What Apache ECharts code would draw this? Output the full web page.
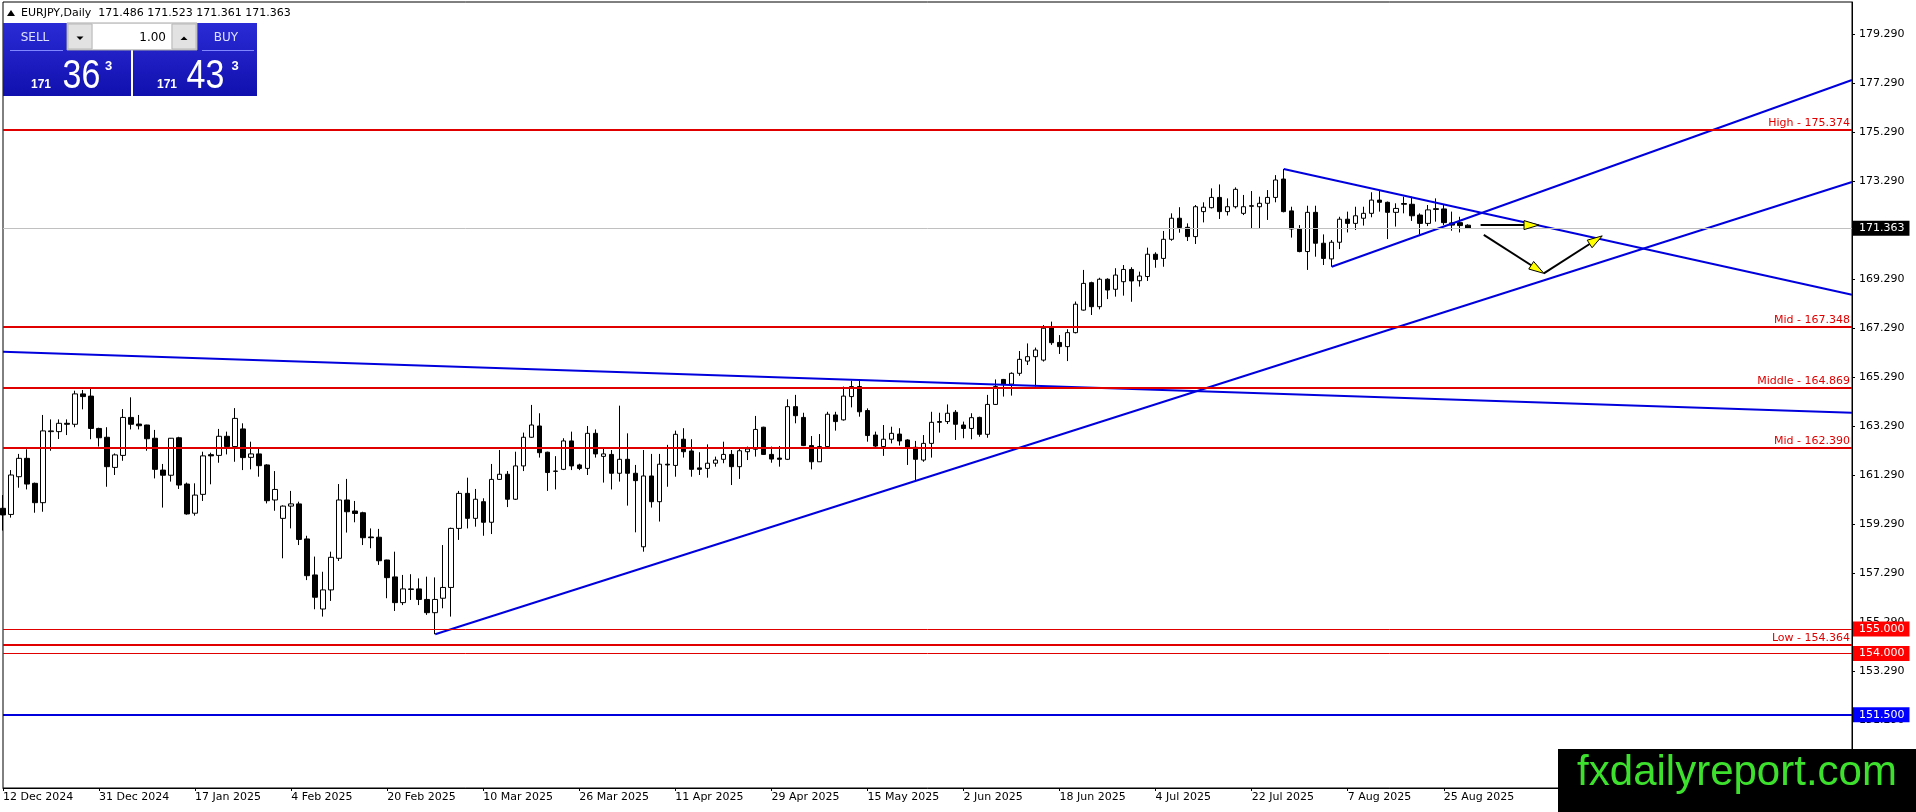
<!DOCTYPE html>
<html>
<head>
<meta charset="utf-8">
<script src="https://cdn.jsdelivr.net/npm/echarts@6/dist/echarts.min.js"></script>
<style>
html,body{margin:0;padding:0;background:#ffffff;}
#c{width:1916px;height:812px;}
</style>
</head>
<body>
<div id="c"></div>
<script>
// ---------- DATA (EURJPY daily) ----------
const open = [
159.93,159.68,161.22,161.97,160.95,160.16,163.06,163.06,163.40,163.36,
164.60,164.51,163.19,162.83,161.60,162.09,163.64,163.37,163.33,162.79,
161.49,161.28,162.81,160.92,159.73,160.50,162.12,162.09,162.87,162.45,
163.17,162.01,162.15,161.70,160.27,159.52,160.02,160.11,158.68,157.21,
155.82,156.60,157.89,160.27,159.82,159.75,158.76,158.75,157.82,157.13,
156.08,156.64,156.64,156.21,155.67,156.26,156.70,159.11,160.54,159.52,
160.20,159.36,161.11,161.32,160.30,161.66,162.83,163.29,162.22,161.45,
161.52,162.68,161.70,161.56,162.99,162.05,162.13,161.36,161.93,161.36,
158.36,161.25,160.20,161.73,161.68,162.75,162.27,161.58,161.56,161.77,
161.93,162.13,161.63,162.24,162.34,163.24,162.13,161.98,161.93,164.08,
163.64,162.49,161.83,162.45,163.74,163.54,164.49,164.90,163.92,162.92,
162.45,162.75,162.96,162.72,162.42,161.90,162.58,163.47,163.47,163.85,
163.33,163.19,163.64,162.95,164.17,165.19,165.00,165.44,165.94,166.12,
165.98,167.30,166.70,166.53,167.10,168.02,169.14,168.16,169.28,168.87,
169.18,169.68,169.22,169.39,170.30,170.13,170.91,171.77,171.40,171.02,
172.04,172.20,172.62,172.04,172.24,171.97,172.28,172.24,172.38,172.62,
173.37,172.07,171.33,170.41,172.01,170.75,170.11,170.79,171.73,171.56,
171.77,171.97,172.51,172.42,172.01,172.37,172.34,171.90,171.56,172.16,
172.15,171.58,171.59,171.486
];
const high = [
160.47,161.49,162.15,162.34,160.98,163.74,163.56,163.56,163.56,164.73,
164.76,164.85,163.22,163.24,162.17,163.98,164.46,163.74,163.34,163.13,
161.74,162.80,162.85,160.98,160.95,162.24,162.20,163.17,163.06,164.02,
163.40,162.65,162.38,161.73,161.45,160.05,160.64,160.20,158.81,157.96,
157.34,158.16,160.92,161.13,160.23,159.79,159.11,159.09,157.83,158.16,
157.21,157.24,157.07,157.14,157.11,158.43,159.14,160.64,161.18,160.72,
160.34,161.74,162.31,161.45,162.24,163.02,164.15,163.81,162.24,162.06,
162.79,163.06,161.75,163.29,163.15,162.38,162.31,164.12,162.99,161.70,
162.31,162.15,162.15,162.52,163.10,163.20,162.75,162.22,162.54,162.04,
162.65,162.31,162.38,162.45,163.70,163.26,162.45,162.47,164.38,164.56,
163.83,162.88,162.96,163.87,163.87,164.90,165.14,165.14,164.01,163.06,
163.33,163.26,163.20,162.75,162.68,162.92,163.87,163.83,164.17,163.94,
163.47,163.81,163.67,164.56,165.19,165.21,165.48,166.35,166.66,166.49,
167.41,167.55,167.00,167.24,168.37,169.66,169.18,169.34,169.32,169.73,
169.86,169.77,169.59,170.57,170.38,171.25,171.97,172.22,171.56,172.31,
172.42,172.99,173.15,172.58,173.03,172.72,172.88,172.65,172.92,173.53,
173.78,172.24,171.49,172.28,172.28,171.11,170.88,171.83,172.04,172.24,
172.24,172.83,172.92,172.45,172.38,172.65,172.65,171.97,172.31,172.58,
172.31,172.04,171.83,171.523
];
const low = [
159.02,159.55,160.77,160.70,159.75,159.79,162.28,162.76,162.92,163.24,
163.97,162.75,162.45,160.81,161.29,161.87,163.15,163.15,162.28,161.15,
159.96,161.02,160.72,159.67,159.63,160.23,160.91,161.79,162.13,161.83,
161.49,161.52,161.22,160.13,159.83,157.89,159.11,158.43,157.00,155.81,
155.51,156.15,157.78,158.94,159.36,158.43,158.30,157.62,156.26,155.74,
155.98,156.19,155.98,155.58,154.79,155.85,155.51,158.64,159.11,159.18,
158.81,158.88,161.09,159.98,160.27,161.45,162.81,162.00,160.64,160.70,
161.49,161.49,161.49,161.29,162.00,160.98,160.70,161.02,160.04,158.95,
158.16,159.96,159.39,160.81,161.22,162.00,161.22,161.29,161.18,161.63,
161.77,160.88,161.13,161.90,162.04,162.11,161.79,161.63,161.90,163.40,
162.47,161.52,161.83,162.42,163.10,163.51,164.05,163.67,162.65,162.42,
162.07,162.58,162.49,161.70,161.06,161.83,162.00,163.02,163.37,162.72,
162.79,162.75,162.85,162.81,164.15,164.49,164.53,165.34,165.78,164.90,
165.92,166.60,166.23,165.94,167.07,168.00,167.82,168.05,168.47,168.57,
168.61,168.36,168.98,169.21,169.75,169.79,170.85,171.18,170.84,170.72,
171.60,172.17,171.74,171.88,172.17,171.90,171.33,171.33,171.70,172.42,
172.01,170.98,170.38,169.66,170.20,169.86,169.79,170.51,171.19,171.29,
171.47,171.81,172.04,170.92,171.43,171.97,171.66,171.11,171.45,171.63,
171.49,171.26,171.19,171.361
];
const close = [
159.66,161.29,161.97,160.92,160.16,163.09,163.09,163.40,163.36,164.60,
164.49,163.19,162.81,161.63,162.11,163.64,163.36,163.30,162.77,161.52,
161.28,162.79,160.88,159.70,160.47,162.07,162.07,162.87,162.45,163.60,
162.00,162.15,161.67,160.24,160.70,160.02,160.11,158.66,157.18,156.30,
156.60,157.93,160.27,159.79,159.72,158.73,158.73,157.79,157.10,156.08,
156.64,156.62,156.21,155.67,156.21,156.70,159.11,160.54,159.52,160.30,
159.36,161.11,161.32,160.30,161.66,162.83,163.33,162.20,161.39,161.44,
162.68,161.66,161.56,162.99,162.15,162.15,161.36,161.93,161.36,161.06,
161.25,160.20,161.73,161.70,162.95,162.24,161.52,161.52,161.77,161.90,
162.13,161.63,162.28,162.35,163.15,162.13,161.94,161.93,164.08,163.71,
162.49,161.83,162.45,163.77,163.47,164.51,164.90,163.87,162.90,162.47,
162.75,162.99,162.68,162.42,161.93,162.58,163.44,163.44,163.81,163.36,
163.19,163.63,162.95,164.17,164.90,165.00,165.44,166.01,166.12,166.39,
167.28,166.69,166.53,167.10,168.26,169.11,168.16,169.28,168.84,169.45,
169.68,169.21,169.41,170.30,170.09,170.91,171.77,171.39,171.02,172.24,
172.22,172.62,172.04,172.24,172.95,172.24,172.26,172.38,172.62,173.33,
172.04,171.33,170.41,172.01,170.75,170.13,170.79,171.73,171.56,171.87,
171.97,172.51,172.42,172.01,172.17,172.34,171.87,171.56,172.11,172.13,
171.59,171.49,171.47,171.363
];

// bar slots on the time axis (traded bars + empty space to the right)
const slotCount = 232;
const slots = Array.from({length: slotCount}, (_, i) => String(i));

// date labels, one every 12 bars starting at bar 0
const tickLabels = ['12 Dec 2024','31 Dec 2024','17 Jan 2025','4 Feb 2025','20 Feb 2025','10 Mar 2025',
  '26 Mar 2025','11 Apr 2025','29 Apr 2025','15 May 2025','2 Jun 2025','18 Jun 2025','4 Jul 2025',
  '22 Jul 2025','7 Aug 2025','25 Aug 2025'];
const tickEvery = 12;

// price axis tick labels
const priceTicks = [151.29,153.29,155.29,157.29,159.29,161.29,163.29,165.29,167.29,169.29,171.29,173.29,175.29,177.29,179.29];

// horizontal red levels with text
const levelValues = [175.374, 167.348, 164.869, 162.390, 154.364];
const levelNames  = ['High - 175.374', 'Mid - 167.348', 'Middle - 164.869', 'Mid - 162.390', 'Low - 154.364'];

// horizontal lines with a price box on the axis
const boxValues = [155.000, 154.000, 151.500, 171.363];
const boxKinds  = ['red', 'red', 'blue', 'bid'];

// trend lines: [barIndex, price] pairs
const trendDescLong   = [[0, 166.32], [231, 163.83]];
const trendChannelLow = [[54, 154.79], [231, 173.25]];
const trendChannelHi  = [[166, 169.79], [231, 177.41]];
const trendTriangleHi = [[160, 173.78], [231, 168.65]];

// arrows: [fromBar, fromPrice, toBar, toPrice]
const arrows = [
  [184.6, 171.49, 191.9, 171.49],
  [185.0, 171.09, 192.5, 169.52],
  [192.5, 169.52, 199.8, 171.05]
];

// ---------- CHART ----------
const FONT = 'DejaVu Sans';
const RED = '#e00000';
const BLUE = '#0000dd';

const candleData = open.map((o, i) => [o, close[i], low[i], high[i]]);

const boxStyle = {
  red:  {line: RED, width: 1, bg: '#ff0000'},
  blue: {line: BLUE, width: 2, bg: '#0000ff'},
  bid:  {line: '#c0c0c0', width: 1, bg: '#000000'}
};

const markData = [];
levelValues.forEach((v, i) => {
  markData.push({
    yAxis: v,
    lineStyle: {color: RED, width: 2, type: 'solid'},
    label: {show: true, position: 'insideEndTop', formatter: levelNames[i], color: RED,
            fontFamily: FONT, fontSize: 11, distance: [2, 1]}
  });
});
boxValues.forEach((v, i) => {
  const s = boxStyle[boxKinds[i]];
  markData.push({
    yAxis: v,
    lineStyle: {color: s.line, width: s.width, type: 'solid'},
    label: {show: true, position: 'end', formatter: v.toFixed(3), color: '#ffffff',
            backgroundColor: s.bg, padding: [2, 5, 1, 6], lineHeight: 12,
            fontFamily: FONT, fontSize: 11, distance: [1, 0]}
  });
});

function showTick(i) { return i % tickEvery === 0 && i / tickEvery < tickLabels.length; }

function renderArrow(params, api) {
  const p1 = api.coord([api.value(0), api.value(1)]);
  const p2 = api.coord([api.value(2), api.value(3)]);
  const dx = p2[0] - p1[0], dy = p2[1] - p1[1];
  const len = Math.hypot(dx, dy) || 1;
  const ux = dx / len, uy = dy / len;
  const hl = 15, hw = 4.5;
  const bx = p2[0] - ux * hl, by = p2[1] - uy * hl;
  return {
    type: 'group',
    children: [
      {type: 'line', shape: {x1: p1[0], y1: p1[1], x2: bx, y2: by}, style: {stroke: '#000', lineWidth: 2}},
      {type: 'polygon', shape: {points: [[p2[0], p2[1]], [bx - uy * hw, by + ux * hw], [bx + uy * hw, by - ux * hw]]},
       style: {fill: '#ffff00', stroke: '#000', lineWidth: 1}}
    ]
  };
}

const trendSeries = [trendDescLong, trendChannelLow, trendChannelHi, trendTriangleHi].map(seg => ({
  type: 'line', xAxisIndex: 1, yAxisIndex: 0, data: seg, symbol: 'none',
  lineStyle: {color: BLUE, width: 2}, silent: true, animation: false, z: 4
}));

const grad = (a, b) => ({type: 'linear', x: 0, y: 0, x2: 0, y2: 1, colorStops: [{offset: 0, color: a}, {offset: 1, color: b}]});
function txt(text, x, y, size, color, align, family, weight, sx) {
  return {type: 'text', z: 102, x: x, y: y, scaleX: sx || 1,
    style: {text: text, x: 0, y: 0, fill: color,
      font: (weight || 'normal') + ' ' + size + 'px "' + (family || FONT) + '"',
      textAlign: align || 'left', align: align || 'left', textVerticalAlign: 'middle', verticalAlign: 'middle'}};
}

const graphic = [
  // header
  {type: 'polygon', z: 100, shape: {points: [[7, 16], [15, 16], [11, 10]]}, style: {fill: '#000'}},
  txt('EURJPY,Daily  171.486 171.523 171.361 171.363', 21, 13, 11, '#000'),
  // one-click panel: blue blocks
  {type: 'rect', z: 100, shape: {x: 3, y: 23, width: 128, height: 73}, style: {fill: grad('#2b2bd6', '#1010ae')}},
  {type: 'rect', z: 100, shape: {x: 133, y: 23, width: 124, height: 73}, style: {fill: grad('#2b2bd6', '#1010ae')}},
  {type: 'rect', z: 101, shape: {x: 10, y: 50, width: 53, height: 1}, style: {fill: '#7f86ff'}},
  {type: 'rect', z: 101, shape: {x: 202, y: 50, width: 52, height: 1}, style: {fill: '#7f86ff'}},
  // gray lot-size control
  {type: 'rect', z: 101, shape: {x: 67, y: 23, width: 130, height: 27}, style: {fill: '#f0f0f0', stroke: '#a8a8a8', lineWidth: 1}},
  {type: 'rect', z: 101, shape: {x: 68, y: 24, width: 24, height: 25}, style: {fill: '#e2e2e2', stroke: '#b8b8b8', lineWidth: 1}},
  {type: 'rect', z: 101, shape: {x: 93, y: 24, width: 78, height: 25}, style: {fill: '#ffffff'}},
  {type: 'rect', z: 101, shape: {x: 172, y: 24, width: 24, height: 25}, style: {fill: '#e2e2e2', stroke: '#b8b8b8', lineWidth: 1}},
  {type: 'polygon', z: 102, shape: {points: [[76.5, 36.5], [83.5, 36.5], [80, 40]]}, style: {fill: '#000'}},
  {type: 'polygon', z: 102, shape: {points: [[180.5, 40], [187.5, 40], [184, 36.5]]}, style: {fill: '#000'}},
  txt('SELL', 35, 38, 12, '#dde2ff', 'center'),
  txt('BUY', 226, 38, 12, '#dde2ff', 'center'),
  txt('1.00', 166, 38, 12, '#000', 'right'),
  // big prices
  txt('171', 41, 85, 12, '#ffffff', 'center', 'Liberation Sans', 'bold'),
  txt('36', 81.5, 77, 40, '#ffffff', 'center', 'Liberation Sans', 'normal', 0.85),
  txt('3', 108.5, 66, 13, '#ffffff', 'center', 'Liberation Sans', 'bold'),
  txt('171', 167, 85, 12, '#ffffff', 'center', 'Liberation Sans', 'bold'),
  txt('43', 205.5, 77, 40, '#ffffff', 'center', 'Liberation Sans', 'normal', 0.85),
  txt('3', 235, 66, 13, '#ffffff', 'center', 'Liberation Sans', 'bold'),
  // watermark
  {type: 'rect', z: 100, shape: {x: 1558, y: 749, width: 358, height: 63}, style: {fill: '#000000'}},
  txt('fxdailyreport.com', 1737, 773, 42, '#3ee02e', 'center', 'Liberation Sans')
];

const option = {
  animation: false,
  backgroundColor: '#ffffff',
  textStyle: {fontFamily: FONT},
  grid: {left: 3, top: 2, right: 64, bottom: 24, show: true, borderColor: '#000', borderWidth: 1, backgroundColor: '#ffffff'},
  xAxis: [
    {
      type: 'category', data: slots, boundaryGap: false,
      axisLine: {show: true, onZero: false, lineStyle: {color: '#000', width: 1}},
      axisTick: {show: true, interval: showTick, length: 3, lineStyle: {color: '#000'}},
      axisLabel: {show: true, interval: showTick, formatter: (v, i) => tickLabels[i / tickEvery] || '',
                  align: 'left', margin: 4, color: '#000', fontFamily: FONT, fontSize: 11},
      splitLine: {show: false}
    },
    {type: 'value', min: 0, max: slotCount - 1, show: false, axisLine: {onZero: false}}
  ],
  yAxis: {
    type: 'value', position: 'right', min: 148.514, max: 180.596,
    axisLine: {show: true, onZero: false, lineStyle: {color: '#000', width: 1}},
    axisTick: {show: true, inside: false, customValues: priceTicks, length: 3, lineStyle: {color: '#000'}},
    axisLabel: {customValues: priceTicks, formatter: v => v.toFixed(3), margin: 7, color: '#000', fontFamily: FONT, fontSize: 11},
    splitLine: {show: false}
  },
  series: [
    {
      type: 'candlestick', xAxisIndex: 0, yAxisIndex: 0, data: candleData, barWidth: 5, clip: true,
      itemStyle: {color: '#ffffff', color0: '#000000', borderColor: '#000000', borderColor0: '#000000', borderColorDoji: '#000000', borderWidth: 1},
      silent: true, z: 2,
      markLine: {silent: true, symbol: ['none', 'none'], animation: false, data: markData}
    },
    ...trendSeries,
    {type: 'custom', xAxisIndex: 1, yAxisIndex: 0, data: arrows, encode: {x: [0, 2], y: [1, 3]},
     renderItem: renderArrow, silent: true, z: 5, animation: false}
  ],
  graphic: graphic
};

const chart = echarts.init(document.getElementById('c'));
chart.setOption(option);
</script>
</body>
</html>
